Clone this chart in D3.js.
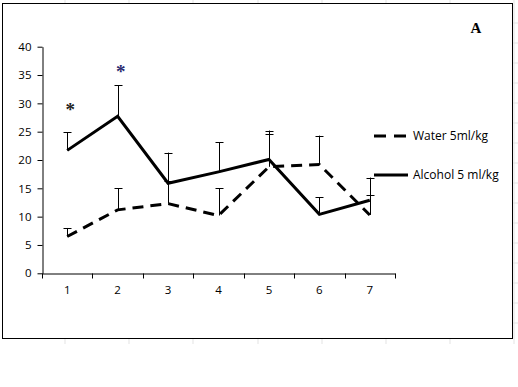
<!DOCTYPE html>
<html>
<head>
<meta charset="utf-8">
<script src="https://cdn.jsdelivr.net/npm/d3@7"></script>
<style>
  body { margin: 0; background: #fff; }
  svg text { font-family: "Open Sans", "Liberation Sans", sans-serif; }
</style>
</head>
<body>
<svg id="chart" width="518" height="387"></svg>
<script>
// data
var days = [1, 2, 3, 4, 5, 6, 7];
var water = [6.5, 11.2, 12.3, 10.2, 18.8, 19.2, 10.3];
var water_err = [8.0, 15.0, 16.3, 15.0, 24.6, 24.3, 16.9];
var alcohol = [21.7, 27.7, 15.9, 17.9, 20.1, 10.4, 12.9];
var alcohol_err = [24.9, 33.2, 21.3, 23.1, 25.2, 13.4, 13.9];
var yticks = [0, 5, 10, 15, 20, 25, 30, 35, 40];
var stars = [[1, 29.5], [2, 36.2]];

var svg = d3.select("#chart");

// faint spreadsheet cell lines peeking round the chart frame
var cols = [65, 129, 193, 258, 322, 386, 450, 514];
svg.selectAll(".cellv")
    .data(cols)
    .enter()
    .append("line")
        .attr("x1", d => d).attr("x2", d => d)
        .attr("y1", 0).attr("y2", 344)
        .attr("stroke", "#e3e3e3");
var rows = d3.range(23, 340, 20);
svg.selectAll(".cellh")
    .data(rows)
    .enter()
    .append("line")
        .attr("x1", 513).attr("x2", 518)
        .attr("y1", d => d).attr("y2", d => d)
        .attr("stroke", "#e3e3e3");

// chart frame
svg.append("rect")
    .attr("x", 2.5).attr("y", 3.5)
    .attr("width", 510).attr("height", 335)
    .attr("fill", "#fff")
    .attr("stroke", "#000")
    .attr("stroke-width", 1);

var x = d3.scaleBand().domain(days).range([42, 395]);
var y = d3.scaleLinear().domain([0, 40]).range([273.3, 46.7]);
var cx = d => x(d) + x.bandwidth() / 2;

// axes
var yAxis = d3.axisLeft(y).tickValues(yticks).tickSize(5).tickSizeOuter(0);
var gy = svg.append("g").attr("transform", "translate(42.5,0)").call(yAxis);
var xAxis = d3.axisBottom(x).tickSize(0).tickSizeOuter(0);
var gx = svg.append("g").attr("transform", "translate(0,273.5)").call(xAxis);

// excel style ticks between categories on the x axis
svg.selectAll(".xt")
    .data(d3.range(0, days.length + 1))
    .enter()
    .append("line")
        .attr("x1", i => Math.round(42 + i * x.step()) + 0.5)
        .attr("x2", i => Math.round(42 + i * x.step()) + 0.5)
        .attr("y1", 273.5).attr("y2", 278.5)
        .attr("stroke", "#000");

[gx, gy].forEach(g => {
    g.select(".domain").attr("stroke", "#000");
    g.selectAll("text").attr("fill", "#000").style("font-size", "11.5px");
});
gy.selectAll(".tick line").attr("stroke", "#000");
gy.selectAll("text").attr("x", -11);
gx.selectAll("text").attr("y", 12);

// error bars (upper only)
function errBars(vals, errs) {
    var g = svg.append("g");
    days.forEach((d, i) => {
        var px = Math.round(cx(d)) + 0.5;
        g.append("line")
            .attr("x1", px).attr("x2", px)
            .attr("y1", y(vals[i])).attr("y2", y(errs[i]))
            .attr("stroke", "#000").attr("stroke-width", 1);
        g.append("line")
            .attr("x1", px - 4).attr("x2", px + 4)
            .attr("y1", Math.round(y(errs[i])) + 0.5).attr("y2", Math.round(y(errs[i])) + 0.5)
            .attr("stroke", "#000").attr("stroke-width", 1);
    });
}
errBars(water, water_err);
errBars(alcohol, alcohol_err);

var line = d3.line()
    .x((d, i) => cx(days[i]))
    .y(d => y(d));

svg.append("path")
    .datum(water)
    .attr("d", line)
    .attr("fill", "none")
    .attr("stroke", "#000")
    .attr("stroke-width", 3)
    .attr("stroke-dasharray", "11,7");

svg.append("path")
    .datum(alcohol)
    .attr("d", line)
    .attr("fill", "none")
    .attr("stroke", "#000")
    .attr("stroke-width", 3)
    .attr("stroke-linejoin", "miter");

// significance stars
svg.selectAll(".star")
    .data(stars)
    .enter()
    .append("text")
        .attr("x", d => cx(d[0]) + 3)
        .attr("y", d => y(d[1]) + 10)
        .attr("text-anchor", "middle")
        .attr("fill", (d, i) => i == 1 ? "#2a2a70" : "#222")
        .style("font-family", "'Liberation Serif', serif")
        .style("font-size", "19px")
        .style("font-weight", "bold")
        .text("*");

// legend
var legend = [
    {name: "Water 5ml/kg", dash: "12,8", ly: 136},
    {name: "Alcohol 5 ml/kg", dash: null, ly: 175}
];
legend.forEach(l => {
    svg.append("line")
        .attr("x1", 374).attr("x2", 408)
        .attr("y1", l.ly).attr("y2", l.ly)
        .attr("stroke", "#000").attr("stroke-width", 3)
        .attr("stroke-dasharray", l.dash);
    svg.append("text")
        .attr("x", 413).attr("y", l.ly + 4)
        .attr("fill", "#000")
        .style("font-size", "12px")
        .text(l.name);
});

svg.append("text")
    .attr("x", 476).attr("y", 33)
    .attr("text-anchor", "middle")
    .attr("fill", "#000")
    .style("font-family", "'Liberation Serif', serif")
    .style("font-weight", "bold")
    .style("font-size", "15px")
    .text("A");
</script>
</body>
</html>
